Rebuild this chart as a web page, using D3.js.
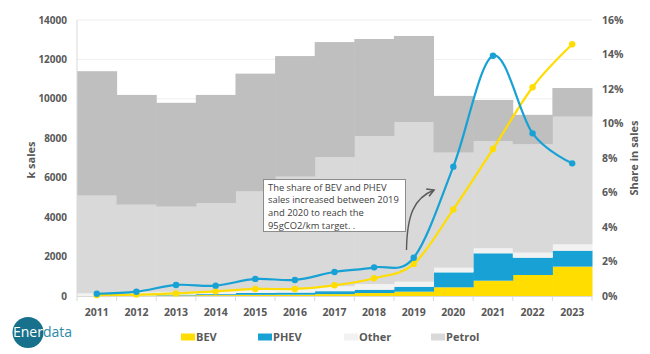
<!DOCTYPE html>
<html>
<head>
<meta charset="utf-8">
<script src="https://cdn.jsdelivr.net/npm/d3@7"></script>
<style>
  body { margin: 0; background: #fff; }
  svg { display: block; font-family: "Open Sans", sans-serif; }
</style>
</head>
<body>
<div id="chart"></div>
<script>
// yearly sales (k units), stacked bottom -> top
const years  = ['2011','2012','2013','2014','2015','2016','2017','2018','2019','2020','2021','2022','2023'];
const bev    = [10, 20, 30, 45, 60, 65, 95, 150, 220, 440, 777, 1065, 1490];
const phev   = [2, 10, 40, 50, 100, 110, 150, 170, 250, 760, 1390, 880, 810];
const other  = [120, 150, 140, 150, 160, 200, 250, 280, 255, 235, 255, 255, 320];
const petrol = [4960, 4450, 4320, 4455, 4980, 5675, 6540, 7515, 8085, 5835, 5440, 5490, 6475];
const diesel = [6310, 5570, 5270, 5500, 5980, 6120, 5845, 4920, 4380, 2880, 2080, 1500, 1455];

// share in sales (%), right axis
const phevShareLine = [0.13, 0.25, 0.64, 0.60, 0.99, 0.93, 1.39, 1.66, 2.22, 7.5, 13.93, 9.43, 7.69];
const bevShareLine  = [0.05, 0.08, 0.15, 0.27, 0.41, 0.41, 0.62, 1.03, 1.86, 5.02, 8.52, 12.1, 14.59];

const leftTicks  = [0, 2000, 4000, 6000, 8000, 10000, 12000, 14000];
const rightTicks = [0, 2, 4, 6, 8, 10, 12, 14, 16];

const keys   = ['BEV', 'PHEV', 'Other', 'Petrol', 'Diesel'];
const colors = { BEV: '#ffdd00', PHEV: '#17a1d4', Other: '#f2f2f2', Petrol: '#d9d9d9', Diesel: '#bfbfbf' };
const legendKeys = ['BEV', 'PHEV', 'Other', 'Petrol'];

const width = 650, height = 354;
const plot = { left: 77, right: 592, top: 20, bottom: 296 };
const textColor = '#595959';

const svg = d3.select('#chart').append('svg')
  .attr('width', width)
  .attr('height', height);

const x = d3.scaleBand().domain(years).range([plot.left, plot.right]).padding(0);
const y = d3.scaleLinear().domain([0, 14000]).range([plot.bottom, plot.top]);
const y2 = d3.scaleLinear().domain([0, 16]).range([plot.bottom, plot.top]);

// gridlines
svg.append('g').selectAll('line')
  .data(leftTicks.slice(1))
  .enter().append('line')
  .attr('x1', plot.left).attr('x2', plot.right)
  .attr('y1', d => y(d)).attr('y2', d => y(d))
  .attr('stroke', '#efefef').attr('stroke-width', 1);

// stacked bars
const rows = years.map((yr, i) => ({
  year: yr, BEV: bev[i], PHEV: phev[i], Other: other[i], Petrol: petrol[i], Diesel: diesel[i]
}));
const stack = d3.stack().keys(keys)(rows);

svg.append('g').selectAll('g')
  .data(stack)
  .enter().append('g')
  .attr('fill', d => colors[d.key])
  .selectAll('rect')
  .data(d => d)
  .enter().append('rect')
  .attr('x', d => x(d.data.year))
  .attr('width', x.bandwidth() + 0.5)
  .attr('y', d => y(d[1]))
  .attr('height', d => y(d[0]) - y(d[1]));

// axes lines
svg.append('line')
  .attr('x1', plot.left).attr('x2', plot.left)
  .attr('y1', plot.top).attr('y2', plot.bottom)
  .attr('stroke', '#d9d9d9');
svg.append('line')
  .attr('x1', plot.left).attr('x2', plot.right)
  .attr('y1', plot.bottom + 0.5).attr('y2', plot.bottom + 0.5)
  .attr('stroke', '#d9d9d9');
svg.append('g').selectAll('line')
  .data(years.map(d => x(d)).concat([plot.right]))
  .enter().append('line')
  .attr('x1', d => d).attr('x2', d => d)
  .attr('y1', plot.bottom).attr('y2', plot.bottom + 5)
  .attr('stroke', '#d9d9d9');

// tick labels
svg.append('g').selectAll('text')
  .data(leftTicks)
  .enter().append('text')
  .attr('x', 67).attr('y', d => y(d))
  .attr('dy', '0.35em')
  .attr('text-anchor', 'end')
  .style('font-size', '10px').style('font-weight', 700).style('fill', textColor)
  .text(d => d);

svg.append('g').selectAll('text')
  .data(rightTicks)
  .enter().append('text')
  .attr('x', 602).attr('y', d => y2(d))
  .attr('dy', '0.35em')
  .style('font-size', '10.5px').style('font-weight', 700).style('fill', textColor)
  .text(d => d + '%');

svg.append('g').selectAll('text')
  .data(years)
  .enter().append('text')
  .attr('x', d => x(d) + x.bandwidth() / 2).attr('y', 312)
  .attr('dy', '0.35em')
  .attr('text-anchor', 'middle')
  .style('font-size', '10.5px').style('font-weight', 700).style('fill', textColor)
  .text(d => d);

// axis titles
svg.append('text')
  .attr('transform', 'translate(31,160) rotate(-90)')
  .attr('text-anchor', 'middle').attr('dy', '0.35em')
  .style('font-size', '11px').style('font-weight', 700).style('fill', textColor)
  .text('k sales');
svg.append('text')
  .attr('transform', 'translate(634,158) rotate(-90)')
  .attr('text-anchor', 'middle').attr('dy', '0.35em')
  .style('font-size', '11px').style('font-weight', 700).style('fill', textColor)
  .text('Share in sales');

// share lines
const cx = i => x(years[i]) + x.bandwidth() / 2;
const line = d3.line()
  .x((d, i) => cx(i))
  .y(d => y2(d))
  .curve(d3.curveCardinal.tension(0));

[[bevShareLine, colors.BEV], [phevShareLine, colors.PHEV]].forEach(([vals, col]) => {
  svg.append('path')
    .datum(vals)
    .attr('d', line)
    .attr('fill', 'none')
    .attr('stroke', col)
    .attr('stroke-width', 2.2);
  svg.append('g').selectAll('circle')
    .data(vals)
    .enter().append('circle')
    .attr('cx', (d, i) => cx(i))
    .attr('cy', d => y2(d))
    .attr('r', 3.2)
    .attr('fill', col);
});

// annotation
svg.append('defs').append('marker')
  .attr('id', 'arrow')
  .attr('viewBox', '0 0 10 10')
  .attr('refX', 8).attr('refY', 5)
  .attr('markerWidth', 7).attr('markerHeight', 7)
  .attr('orient', 'auto')
  .append('path')
  .attr('d', 'M1,1 L8,5 L1,9')
  .attr('fill', 'none')
  .attr('stroke', '#595959')
  .attr('stroke-width', 1.6);

svg.append('path')
  .attr('d', 'M406.5,250 C407,215 414,198 434,190')
  .attr('fill', 'none')
  .attr('stroke', '#595959')
  .attr('stroke-width', 1.4)
  .attr('marker-end', 'url(#arrow)');

svg.append('rect')
  .attr('x', 263.5).attr('y', 179.5)
  .attr('width', 142).attr('height', 52)
  .attr('fill', '#fff')
  .attr('stroke', '#8c8c8c');

const note = ['The share of BEV and PHEV', 'sales increased between 2019', 'and 2020 to reach the', '95gCO2/km target. .'];
svg.append('g').selectAll('text')
  .data(note)
  .enter().append('text')
  .attr('x', 268).attr('y', (d, i) => 187.5 + i * 12.6)
  .attr('dy', '0.35em')
  .style('font-size', '9.4px').style('fill', '#404040')
  .text(d => d);

// legend
const legendX = { BEV: 181, PHEV: 258, Other: 344, Petrol: 431 };
const lg = svg.append('g').selectAll('g')
  .data(legendKeys)
  .enter().append('g')
  .attr('transform', d => `translate(${legendX[d]},337)`);
lg.append('rect')
  .attr('x', 0).attr('y', -3.5)
  .attr('width', 14).attr('height', 7)
  .attr('fill', d => colors[d]);
lg.append('text')
  .attr('x', 15).attr('dy', '0.35em')
  .style('font-size', '11px').style('font-weight', 700).style('fill', textColor)
  .text(d => d);

// logo
const logo = svg.append('g');
logo.append('circle')
  .attr('cx', 28).attr('cy', 332.5).attr('r', 15.5)
  .attr('fill', '#17718c');
const logoText = logo.append('text')
  .attr('x', 13).attr('y', 332)
  .attr('dy', '0.35em')
  .style('font-size', '14px');
logoText.append('tspan').attr('fill', '#fff').text('Ener');
logoText.append('tspan').attr('fill', '#2a8ba6').text('data');
</script>
</body>
</html>
